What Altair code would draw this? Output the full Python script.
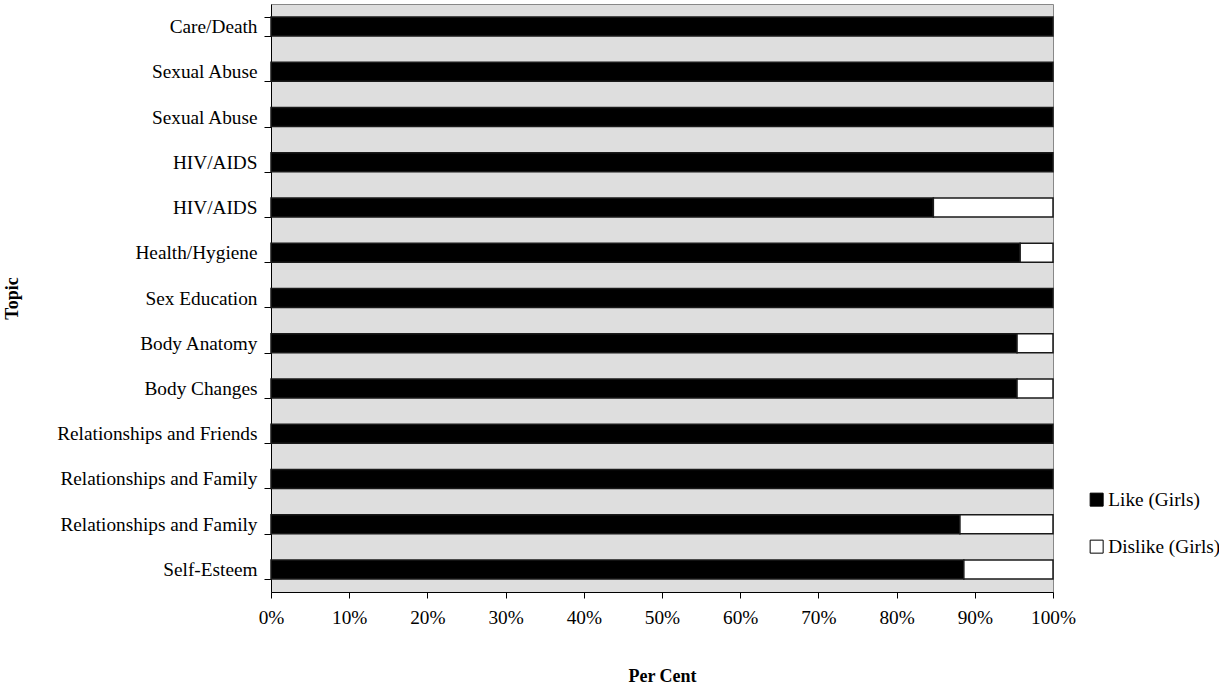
import altair as alt
import pandas as pd

# Topics, top to bottom (trailing spaces keep repeated topics as separate rows)
topics = [
    "Care/Death",
    "Sexual Abuse ",
    "Sexual Abuse",
    "HIV/AIDS",
    "HIV/AIDS ",
    "Health/Hygiene",
    "Sex Education",
    "Body Anatomy",
    "Body Changes",
    "Relationships and Friends",
    "Relationships and Family",
    "Relationships and Family ",
    "Self-Esteem",
]

like_girls = [100, 100, 100, 100, 84.7, 95.8, 100, 95.4, 95.4, 100, 100, 88.1, 88.6]
dislike_girls = [0, 0, 0, 0, 15.3, 4.2, 0, 4.6, 4.6, 0, 0, 11.9, 11.4]

series = ["Like (Girls)", "Dislike (Girls)"]
x_ticks = [0, 10, 20, 30, 40, 50, 60, 70, 80, 90, 100]

rows = []
for t, lk, dl in zip(topics, like_girls, dislike_girls):
    rows.append({"Topic": t, "Response": series[0], "Pct": lk, "Order": 0})
    rows.append({"Topic": t, "Response": series[1], "Pct": dl, "Order": 1})
df = pd.DataFrame(rows)
df = df[df["Pct"] > 0]

FONT = "Liberation Serif"
LABEL_SIZE = 19.3

chart = (
    alt.Chart(df)
    .mark_bar(stroke="#1a1a1a", strokeWidth=1.5)
    .encode(
        y=alt.Y(
            "Topic:N",
            sort=topics,
            scale=alt.Scale(paddingInner=0.58, paddingOuter=0.29),
            axis=alt.Axis(
                title="Topic",
                titleFont=FONT,
                titleFontSize=18,
                titleFontWeight="bold",
                titleColor="black",
                titleX=-259,
                titleBaseline="middle",
                labelFont=FONT,
                labelFontSize=LABEL_SIZE,
                labelColor="black",
                labelLimit=0,
                labelPadding=7,
                tickSize=7,
                tickBand="extent",
                tickColor="black",
                domainColor="black",
                grid=False,
            ),
        ),
        x=alt.X(
            "Pct:Q",
            stack="zero",
            scale=alt.Scale(domain=[0, 100], nice=False),
            axis=alt.Axis(
                title="Per Cent",
                values=x_ticks,
                labelExpr="datum.value + '%'",
                titleFont=FONT,
                titleFontSize=18,
                titleFontWeight="bold",
                titleColor="black",
                titleY=84,
                titleBaseline="middle",
                labelFont=FONT,
                labelFontSize=LABEL_SIZE,
                labelColor="black",
                labelFlush=False,
                labelOverlap=False,
                labelPadding=10,
                tickSize=6,
                tickColor="black",
                domainColor="black",
                grid=False,
            ),
        ),
        color=alt.Color(
            "Response:N",
            sort=series,
            scale=alt.Scale(domain=series, range=["#000000", "#ffffff"]),
            legend=alt.Legend(
                title=None,
                orient="none",
                legendX=816,
                legendY=486,
                symbolType="square",
                symbolSize=169,
                symbolStrokeColor="black",
                symbolStrokeWidth=1,
                symbolOpacity=1,
                labelFont=FONT,
                labelFontSize=LABEL_SIZE,
                labelColor="black",
                labelOffset=2,
                rowPadding=27,
            ),
        ),
        order=alt.Order("Order:Q"),
    )
    .properties(
        width=782,
        height=588,
        autosize=alt.AutoSizeParams(type="none"),
        padding={"left": 271, "top": 4, "right": 166, "bottom": 94},
        background="white",
    )
    .configure_view(fill="#dedede", stroke="#888888", strokeWidth=1)
)

chart.save("out.html", embed_options={"renderer": "svg", "actions": False})
